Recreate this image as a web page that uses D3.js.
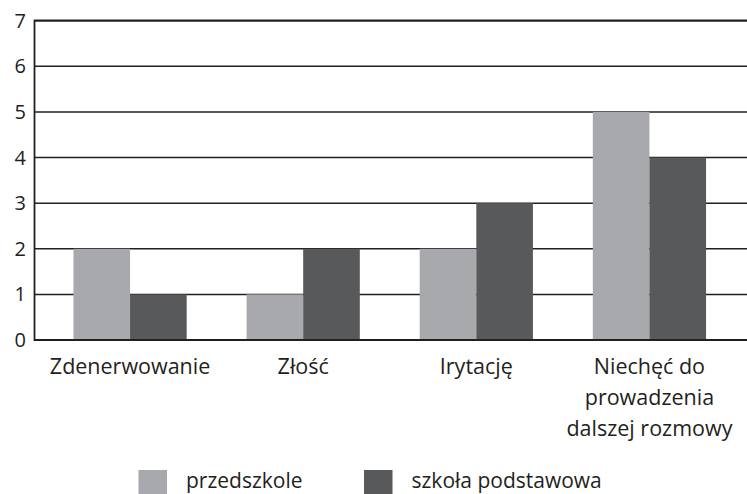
<!DOCTYPE html>
<html>
<head>
<meta charset="utf-8">
<script src="https://cdn.jsdelivr.net/npm/d3@7"></script>
<style>
  body { margin: 0; background: #fff; }
  text { font-family: "Open Sans", sans-serif; fill: #231f20; }
</style>
</head>
<body>
<div id="chart"></div>
<script>
const categories = ["Zdenerwowanie", "Złość", "Irytację", "Niechęć do|prowadzenia|dalszej rozmowy"];
const seriesNames = ["przedszkole", "szkoła podstawowa"];
const przedszkole = [2, 1, 2, 5];
const szkolaPodstawowa = [1, 2, 3, 4];
const yTicks = [0, 1, 2, 3, 4, 5, 6, 7];
const colors = ["#a7a9ac", "#58595b"];

const W = 747, H = 494;
const plot = {left: 34.5, right: 747, top: 20.7, bottom: 340};

const svg = d3.select("#chart")
    .append("svg")
    .attr("width", W)
    .attr("height", H);

const data = categories.map((c, i) => ({
    cat: c,
    values: [przedszkole[i], szkolaPodstawowa[i]]
}));

const x0 = d3.scaleBand()
    .domain(categories)
    .range([plot.left, 745])
    .paddingInner(0.346)
    .paddingOuter(0.225);

const x1 = d3.scaleBand()
    .domain(seriesNames)
    .range([0, x0.bandwidth()]);

const y = d3.scaleLinear()
    .domain([0, 7])
    .range([plot.bottom, plot.top]);

// grid lines
svg.append("g")
    .selectAll("line")
    .data(yTicks)
    .join("line")
    .attr("x1", plot.left)
    .attr("x2", plot.right)
    .attr("y1", d => y(d))
    .attr("y2", d => y(d))
    .attr("stroke", "#231f20")
    .attr("stroke-width", d => (d === 0 || d === 7) ? 2.2 : 1.5);

// bars
const groups = svg.append("g")
    .selectAll("g")
    .data(data)
    .join("g")
    .attr("transform", d => `translate(${x0(d.cat)},0)`);

groups.selectAll("rect")
    .data(d => d.values.map((v, i) => ({ key: seriesNames[i], v, i })))
    .join("rect")
    .attr("x", d => x1(d.key))
    .attr("y", d => y(d.v))
    .attr("width", x1.bandwidth())
    .attr("height", d => y(0) - y(d.v))
    .attr("fill", d => colors[d.i]);

// baseline + left axis drawn over the bars
svg.append("line")
    .attr("x1", plot.left).attr("x2", plot.right)
    .attr("y1", y(0)).attr("y2", y(0))
    .attr("stroke", "#231f20").attr("stroke-width", 2.2);

svg.append("line")
    .attr("x1", plot.left).attr("x2", plot.left)
    .attr("y1", y(7) - 1).attr("y2", y(0) + 1)
    .attr("stroke", "#231f20").attr("stroke-width", 1.8);

// y tick labels
svg.append("g")
    .selectAll("text")
    .data(yTicks)
    .join("text")
    .attr("x", 26)
    .attr("y", d => y(d) + 7)
    .attr("text-anchor", "end")
    .style("font-size", "20px")
    .text(d => d);

// category labels
const labels = svg.append("g")
    .selectAll("text")
    .data(categories)
    .join("text")
    .attr("x", d => x0(d) + x0.bandwidth() / 2)
    .attr("y", 374)
    .attr("text-anchor", "middle")
    .style("font-size", "21.5px");

labels.selectAll("tspan")
    .data(d => d.split("|"))
    .join("tspan")
    .attr("x", function() { return d3.select(this.parentNode).attr("x"); })
    .attr("dy", (d, i) => i === 0 ? 0 : 31)
    .text(d => d);

// legend
const legendX = [138.5, 364];
const legend = svg.append("g")
    .selectAll("g")
    .data(seriesNames)
    .join("g")
    .attr("transform", (d, i) => `translate(${legendX[i]},470)`);

legend.append("rect")
    .attr("width", 28.5)
    .attr("height", 24)
    .attr("fill", (d, i) => colors[i]);

legend.append("text")
    .attr("x", 47.5)
    .attr("y", 18)
    .style("font-size", "21px")
    .text(d => d);
</script>
</body>
</html>
